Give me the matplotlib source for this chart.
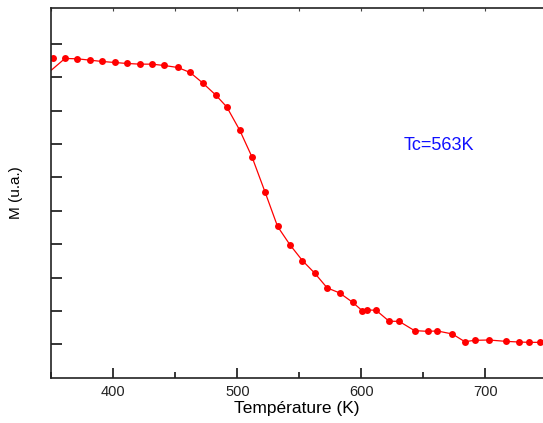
import numpy as np
import matplotlib
matplotlib.use("Agg")
import matplotlib.pyplot as plt
from matplotlib.ticker import MultipleLocator

plt.rcParams['font.family'] = ['Liberation Sans', 'DejaVu Sans']

# temperature (K) and magnetisation (arb. units)
temperature = [351, 361, 371, 381, 391, 401, 411, 421.5, 431, 441, 452, 462,
               472, 482.5, 491.5, 502, 512, 522.5, 532.5, 542.5, 552.5, 562.5,
               572.5, 582.5, 593, 601, 604.5, 612, 622.5, 630.5, 643, 653.5,
               661.5, 673.5, 683.5, 691.5, 703, 716.5, 727, 735.5, 744.5]
magnetisation = [9.58, 9.56, 9.55, 9.51, 9.47, 9.44, 9.41, 9.39, 9.39, 9.35,
                 9.29, 9.14, 8.83, 8.47, 8.11, 7.41, 6.60, 5.55, 4.53, 3.98,
                 3.51, 3.13, 2.69, 2.54, 2.26, 2.00, 2.03, 2.02, 1.69, 1.69,
                 1.41, 1.39, 1.40, 1.31, 1.08, 1.12, 1.13, 1.09, 1.07, 1.06,
                 1.06]
# the fitted curve starts below the first point (outside the frame)
curve_start = (345, 9.05)

curve_T = [curve_start[0]] + temperature[1:]
curve_M = [curve_start[1]] + magnetisation[1:]

fig = plt.figure(figsize=(5.43, 4.23), dpi=100)
ax = fig.add_axes([0.0945, 0.107, 0.9055, 0.874])

ax.plot(curve_T, curve_M, color="red", linewidth=0.9)
ax.plot(temperature, magnetisation, linestyle="none", marker="o",
        markersize=5.0, color="red", markeredgewidth=0)

ax.set_xlim(350, 746.6)
ax.set_ylim(0, 11.07)
ax.xaxis.set_major_locator(MultipleLocator(100))
ax.xaxis.set_minor_locator(MultipleLocator(50))
ax.set_yticks(np.arange(1, 11))
ax.set_yticklabels([])

ax.spines["right"].set_visible(False)
for side in ["left", "bottom", "top"]:
    ax.spines[side].set_linewidth(1.2)
    ax.spines[side].set_color("#222222")

ax.tick_params(axis="x", which="major", direction="in", length=7, width=1.1,
               labelsize=10.5, pad=5, top=False, labelcolor="#222222")
ax.tick_params(axis="x", which="minor", direction="in", length=4, width=1.1,
               top=False)
ax.tick_params(axis="y", direction="in", length=8, width=1.1, right=False)

# small tick marks along the top frame
top = ax.secondary_xaxis("top")
top.xaxis.set_major_locator(MultipleLocator(50))
top.tick_params(direction="in", length=2.5, width=0.8, labeltop=False,
                colors="#444444")
top.spines["top"].set_visible(False)

ax.set_xlabel("Température (K)", fontsize=12.5, labelpad=2)
ax.set_ylabel("M (u.a.)", fontsize=11, labelpad=17)

ax.text(663, 6.94, "Tc=563K", color="#1010ff", fontsize=13,
        ha="center", va="center")

fig.savefig("out.png", dpi=100)
